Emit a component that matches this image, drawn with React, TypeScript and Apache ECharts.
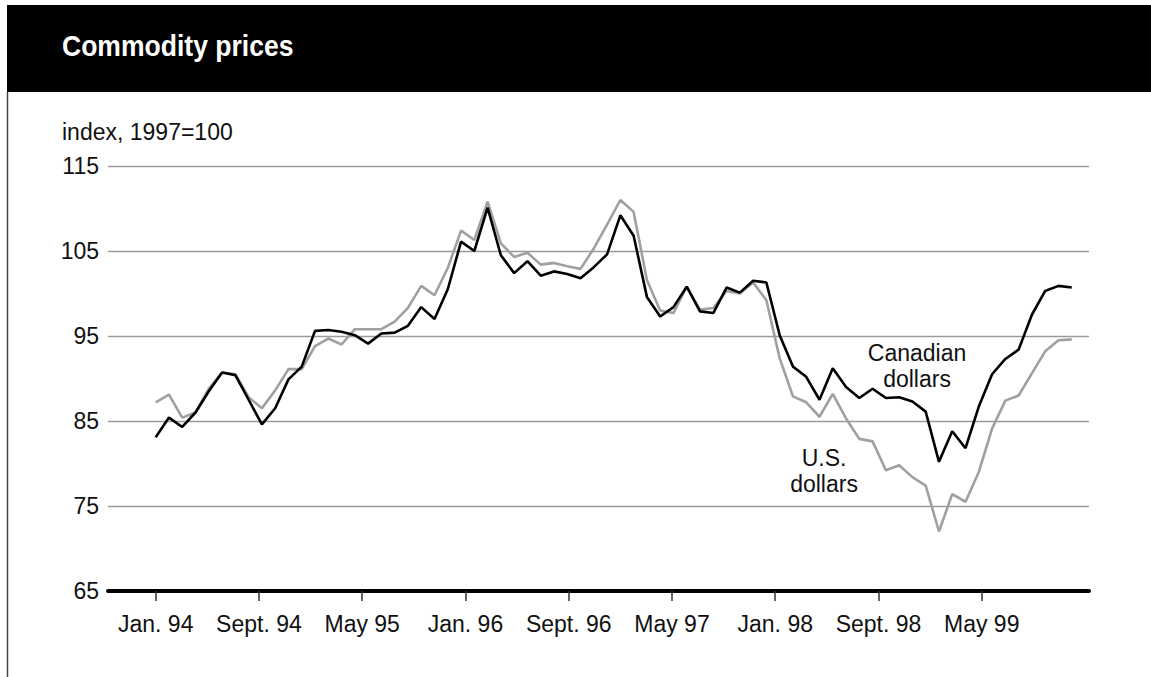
import React, { useEffect, useRef } from "react";
import * as echarts from "echarts";

// Tick labels on the time axis (every 8 months, starting Jan. 94)
const tickLabels = ["Jan. 94", "Sept. 94", "May 95", "Jan. 96", "Sept. 96", "May 97", "Jan. 98", "Sept. 98", "May 99"];
const tickMonths = [0, 8, 16, 24, 32, 40, 48, 56, 64];

// Y axis ticks
const yTicks = [65, 75, 85, 95, 105, 115];

// Commodity price index in Canadian dollars (1997=100), monthly
const cadValues = [
  83.1, 85.4, 84.3, 86.0, 88.5, 90.7, 90.4, 87.5, 84.6, 86.5,
  89.9, 91.4, 95.6, 95.7, 95.5, 95.1, 94.1, 95.3, 95.4, 96.2,
  98.4, 97.0, 100.5, 106.1, 105.0, 110.1, 104.5, 102.4, 103.8, 102.1,
  102.6, 102.3, 101.8, 103.1, 104.6, 109.2, 106.8, 99.6, 97.3, 98.4,
  100.8, 97.9, 97.7, 100.7, 100.1, 101.5, 101.3, 95.1, 91.4, 90.2,
  87.5, 91.2, 89.0, 87.7, 88.8, 87.7, 87.8, 87.3, 86.1, 80.2,
  83.8, 81.8, 86.7, 90.5, 92.3, 93.4, 97.5, 100.3, 100.9, 100.7,
];

// Commodity price index in U.S. dollars (1997=100), monthly
const usdValues = [
  87.2, 88.1, 85.4, 86.0, 88.8, 90.7, 90.5, 87.8, 86.5, 88.6,
  91.1, 91.1, 93.8, 94.7, 94.0, 95.8, 95.8, 95.8, 96.7, 98.3,
  100.9, 99.8, 103.0, 107.4, 106.3, 110.8, 105.9, 104.3, 104.8, 103.4,
  103.6, 103.2, 102.9, 105.3, 108.1, 111.0, 109.6, 101.6, 98.0, 97.7,
  100.8, 98.1, 98.3, 100.3, 100.0, 101.3, 99.2, 92.4, 87.9, 87.2,
  85.5, 88.2, 85.3, 82.9, 82.6, 79.2, 79.8, 78.4, 77.4, 72.0,
  76.4, 75.5, 79.0, 84.1, 87.4, 88.0, 90.6, 93.2, 94.5, 94.6,
];

const FONT = '"Liberation Sans", Arial, Helvetica, sans-serif';
const FS = 23;

export default function App() {
  const ref = useRef<HTMLDivElement>(null);

  useEffect(() => {
    if (!ref.current) return;
    const chart = echarts.init(ref.current, null, { renderer: "svg" });
    const W = 1151;

    const option: any = {
      animation: false,
      backgroundColor: "#ffffff",
      textStyle: { fontFamily: FONT },
      grid: [
        { left: 108, right: W - 1089, top: 166, bottom: 677 - 591, outerBoundsMode: "none", containLabel: false },
        { left: 155.7, right: W - 1085, top: 166, bottom: 677 - 591, outerBoundsMode: "none", containLabel: false },
      ],
      xAxis: [
        {
          gridIndex: 0,
          type: "value",
          min: 0,
          max: 1,
          axisLine: { show: true, onZero: false, lineStyle: { color: "#000", width: 4 } },
          axisTick: { show: false },
          axisLabel: { show: false },
          splitLine: { show: false },
        },
        {
          gridIndex: 1,
          type: "value",
          position: "bottom",
          min: 0,
          max: 72,
          axisLine: { show: false, onZero: false },
          axisTick: {
            show: true,
            customValues: tickMonths,
            length: 10,
            lineStyle: { color: "#333", width: 1.5 },
          },
          axisLabel: {
            show: true,
            customValues: tickMonths,
            margin: 21,
            fontSize: FS,
            color: "#111",
            fontFamily: FONT,
            formatter: (v: number) => {
              const i = tickMonths.indexOf(v);
              return i >= 0 ? tickLabels[i] : "";
            },
          },
          splitLine: { show: false },
        },
        {
          gridIndex: 1,
          type: "value",
          position: "top",
          min: 0,
          max: 70,
          show: false,
        },
      ],
      yAxis: [
        {
          gridIndex: 0,
          type: "value",
          min: 65,
          max: 115,
          axisLine: { show: false },
          axisTick: { show: false, customValues: yTicks },
          axisLabel: {
            customValues: yTicks,
            margin: 9,
            fontSize: FS,
            color: "#111",
            fontFamily: FONT,
          },
          splitLine: { show: true, lineStyle: { color: "#9a9a9a", width: 1.3 } },
        },
        { gridIndex: 1, type: "value", min: 65, max: 115, show: false },
      ],
      series: [
        {
          name: "U.S. dollars",
          type: "line",
          xAxisIndex: 2,
          yAxisIndex: 1,
          symbol: "none",
          lineStyle: { color: "#a0a0a0", width: 2.6 },
          data: usdValues.map((v, i) => [i, v]),
          z: 3,
        },
        {
          name: "Canadian dollars",
          type: "line",
          xAxisIndex: 2,
          yAxisIndex: 1,
          symbol: "none",
          lineStyle: { color: "#000000", width: 2.6 },
          data: cadValues.map((v, i) => [i, v]),
          z: 4,
        },
      ],
      graphic: [
        { type: "rect", shape: { x: 7, y: 5, width: W - 7, height: 87 }, style: { fill: "#000" }, z: 0 },
        { type: "line", shape: { x1: 7.5, y1: 92, x2: 7.5, y2: 677 }, style: { stroke: "#444", lineWidth: 1.5 } },
        {
          type: "text",
          x: 62,
          y: 45,
          scaleX: 0.885,
          style: {
            text: "Commodity prices",
            fill: "#fff",
            fontSize: 30,
            fontWeight: "bold",
            fontFamily: FONT,
            verticalAlign: "middle",
          },
        },
        {
          type: "text",
          x: 62,
          y: 132,
          style: { text: "index, 1997=100", fill: "#111", fontSize: FS, fontFamily: FONT, verticalAlign: "middle" },
        },
        {
          type: "text",
          x: 917,
          y: 366,
          style: {
            text: "Canadian\ndollars",
            fill: "#111",
            fontSize: FS,
            lineHeight: 26,
            fontFamily: FONT,
            align: "center",
            verticalAlign: "middle",
          },
        },
        {
          type: "text",
          x: 824,
          y: 471,
          style: {
            text: "U.S.\ndollars",
            fill: "#111",
            fontSize: FS,
            lineHeight: 26,
            fontFamily: FONT,
            align: "center",
            verticalAlign: "middle",
          },
        },
      ],
    };

    chart.setOption(option);
    return () => chart.dispose();
  }, []);

  return (
    <div
      ref={ref}
      style={{ position: "fixed", left: 0, top: 0, width: 1151, height: 677, background: "#fff" }}
    />
  );
}
